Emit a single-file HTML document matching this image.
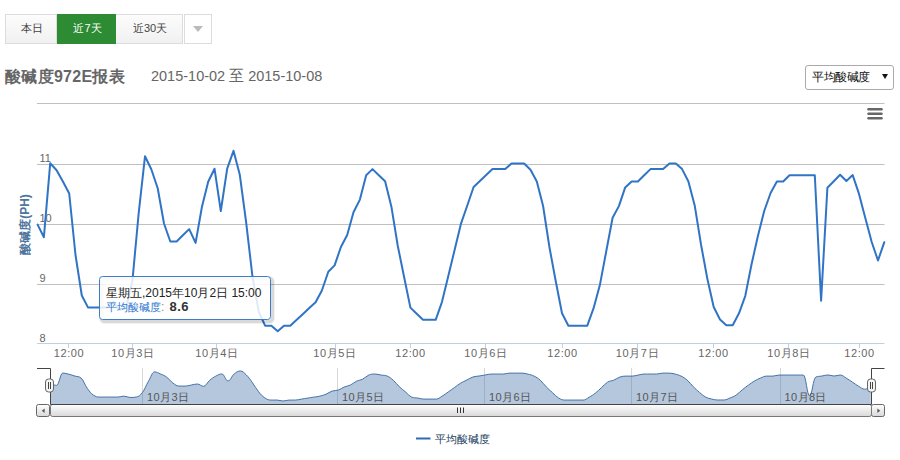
<!DOCTYPE html>
<html><head><meta charset="utf-8">
<style>
html,body{margin:0;padding:0;background:#fff;}
body{width:900px;height:460px;position:relative;overflow:hidden;font-family:"Liberation Sans",sans-serif;}
.btn{position:absolute;top:14px;height:28px;border:1px solid #dcdcdc;background:linear-gradient(#fcfcfc,#f1f1f1);color:#444;font-size:11px;line-height:26px;text-align:center;box-sizing:content-box;text-indent:2px;}
#b1{left:5px;width:50px;}
#b2{left:57px;width:59px;height:30px;border:none;background:#2d8b33;color:#fff;line-height:28px;}
#b3{left:116px;width:66px;border-left:none;}
#b4{left:184px;width:26px;background:#fff;}
#b4 i{position:absolute;left:8px;top:11px;width:0;height:0;border-left:5px solid transparent;border-right:5px solid transparent;border-top:6px solid #bbb;}
#title{position:absolute;left:5px;top:65px;font-size:16px;font-weight:bold;color:#666;letter-spacing:0.3px;white-space:nowrap;line-height:24px;}
#date{position:absolute;left:151px;top:64px;font-size:15.5px;color:#666;white-space:nowrap;line-height:24px;transform:scaleX(0.935);transform-origin:0 0;}
#sel{position:absolute;left:805px;top:65px;width:87px;height:23px;border:1px solid #aaa;border-radius:3px;background:#fff;}
#sel span{position:absolute;left:6px;top:0;font-size:12px;letter-spacing:-0.4px;line-height:23px;color:#111;}
#sel i{position:absolute;left:76px;top:8px;width:0;height:0;border-left:3px solid transparent;border-right:3px solid transparent;border-top:5.5px solid #111;}
svg{position:absolute;left:0;top:0;}
svg text{font-family:"Liberation Sans",sans-serif;}
</style></head><body>
<div class="btn" id="b1">本日</div>
<div class="btn" id="b2">近7天</div>
<div class="btn" id="b3">近30天</div>
<div class="btn" id="b4"><i></i></div>
<div id="title">酸碱度972E报表</div>
<div id="date">2015-10-02 至 2015-10-08</div>
<div id="sel"><span>平均酸碱度</span><i></i></div>
<svg width="900" height="460" viewBox="0 0 900 460">
 <g stroke="#c0c0c0" stroke-width="1" fill="none">
  <path d="M37 103.5 H884.5"/>
  <path d="M37 164.5 H884.5"/>
  <path d="M37 224.5 H884.5"/>
  <path d="M37 284.5 H884.5"/>
 </g>
 <path d="M37 343.5 H884.5" stroke="#c0d0e0" stroke-width="1"/>
 <g stroke="#c0d0e0" stroke-width="1">
  <path d="M68.5 343 v5"/><path d="M132.5 343 v5"/><path d="M216.5 343 v5"/><path d="M335.5 343 v5"/>
  <path d="M410.5 343 v5"/><path d="M485.5 343 v5"/><path d="M562.5 343 v5"/><path d="M637.5 343 v5"/>
  <path d="M713.5 343 v5"/><path d="M788.5 343 v5"/><path d="M859.5 343 v5"/>
 </g>
 <g font-size="11" fill="#666" text-anchor="start">
  <text x="39.5" y="162">11</text>
  <text x="39.5" y="222">10</text>
  <text x="39.5" y="282">9</text>
  <text x="39.5" y="341.5">8</text>
 </g>
 <g font-size="11" fill="#666" text-anchor="middle" letter-spacing="0.6">
  <text x="69" y="357">12:00</text>
  <text x="133" y="357">10月3日</text>
  <text x="217" y="357">10月4日</text>
  <text x="335" y="357">10月5日</text>
  <text x="410.5" y="357">12:00</text>
  <text x="486" y="357">10月6日</text>
  <text x="562.5" y="357">12:00</text>
  <text x="637.5" y="357">10月7日</text>
  <text x="713.5" y="357">12:00</text>
  <text x="789" y="357">10月8日</text>
  <text x="859.5" y="357">12:00</text>
 </g>
 <text transform="translate(29 224.5) rotate(-90)" text-anchor="middle" font-size="12" fill="#4d759e"><tspan font-size="11.5" font-weight="bold">酸碱度</tspan><tspan font-weight="bold">(PH)</tspan></text>
 <!-- export menu -->
 <g stroke="#666" stroke-width="2.5" stroke-linecap="round">
  <path d="M868.5 109.2 H881.5"/><path d="M868.5 113.7 H881.5"/><path d="M868.5 118.2 H881.5"/>
 </g>
 <!-- series -->
 <path d="M37.6 224.6 L43.9 237.2 L50.2 163.3 L56.6 170.2 L62.9 181.5 L69.2 193.5 L75.5 255.0 L81.8 295.5 L88.1 307.6 L94.5 307.6 L100.8 307.6 L107.1 307.6 L113.4 302.0 L119.7 310.0 L126.1 307.6 L132.4 281.0 L138.7 213.0 L145.0 156.3 L151.3 169.3 L157.7 188.3 L164.0 223.5 L170.3 241.5 L176.6 241.5 L182.9 235.3 L189.2 229.1 L195.6 242.9 L201.9 207.0 L208.2 181.7 L214.5 168.7 L220.8 211.0 L227.2 168.7 L233.5 150.8 L239.8 174.8 L246.1 222.0 L252.4 276.0 L258.8 312.0 L265.1 325.7 L271.4 325.7 L277.7 331.3 L284.0 325.7 L290.3 325.7 L296.7 319.8 L303.0 313.9 L309.3 308.0 L315.6 302.2 L321.9 290.5 L328.3 271.7 L334.6 265.4 L340.9 247.0 L347.2 235.0 L353.5 212.2 L359.9 199.6 L366.2 175.2 L372.5 169.1 L378.8 175.2 L385.1 181.3 L391.4 206.7 L397.8 246.0 L404.1 277.0 L410.4 307.6 L416.7 313.8 L423.0 319.8 L429.4 319.8 L435.7 319.8 L442.0 301.8 L448.3 276.0 L454.6 250.0 L460.9 223.9 L467.3 205.5 L473.6 187.0 L479.9 181.0 L486.2 175.0 L492.5 169.1 L498.9 169.1 L505.2 169.1 L511.5 163.5 L517.8 163.5 L524.1 163.5 L530.5 169.8 L536.8 181.5 L543.1 206.0 L549.4 247.0 L555.7 281.0 L562.0 313.3 L568.4 325.7 L574.7 325.7 L581.0 325.7 L587.3 325.7 L593.6 308.2 L600.0 284.4 L606.3 251.0 L612.6 217.8 L618.9 206.1 L625.2 187.4 L631.6 181.5 L637.9 181.5 L644.2 175.3 L650.5 169.1 L656.8 169.1 L663.1 169.1 L669.5 163.5 L675.8 163.5 L682.1 169.1 L688.4 181.5 L694.7 205.4 L701.1 245.0 L707.4 279.0 L713.7 307.0 L720.0 319.5 L726.3 325.3 L732.7 325.3 L739.0 313.3 L745.3 295.8 L751.6 264.0 L757.9 236.0 L764.2 211.0 L770.6 193.0 L776.9 181.5 L783.2 181.5 L789.5 175.2 L795.8 175.2 L802.2 175.2 L808.5 175.2 L814.8 175.2 L821.1 300.7 L827.4 187.7 L833.8 181.2 L840.1 174.7 L846.4 181.0 L852.7 175.1 L859.0 193.9 L865.3 218.0 L871.7 242.0 L878.0 260.5 L884.3 242.2" fill="none" stroke="#3074c6" stroke-width="2" stroke-linejoin="round" stroke-linecap="round"/>
 <!-- navigator -->
 <g stroke="#d8d8d8" stroke-width="1">
  <path d="M142.5 368 V404"/><path d="M337.5 368 V404"/><path d="M484.5 368 V404"/><path d="M631.5 368 V404"/><path d="M780.5 368 V404"/>
 </g>
 <path d="M50.50 383.27 C50.50 383.27 54.17 385.36 56.62 385.36 C59.07 385.36 60.29 373.08 62.74 373.08 C65.19 373.08 66.42 373.62 68.86 374.22 C71.31 374.83 72.54 375.33 74.99 376.10 C77.44 376.88 78.66 376.10 81.11 378.10 C83.56 380.09 84.78 384.93 87.23 388.32 C89.68 391.71 90.90 393.30 93.35 395.05 C95.80 396.80 97.02 397.06 99.47 397.06 C101.92 397.06 103.15 397.06 105.59 397.06 C108.04 397.06 109.27 397.06 111.72 397.06 C114.17 397.06 115.39 397.06 117.84 397.06 C120.29 397.06 121.51 396.13 123.96 396.13 C126.41 396.13 127.63 397.46 130.08 397.46 C132.53 397.46 133.75 397.46 136.20 397.06 C138.65 396.66 139.88 395.78 142.32 392.64 C144.77 389.50 146.00 385.48 148.45 381.34 C150.89 377.19 152.12 371.91 154.57 371.91 C157.02 371.91 158.24 373.01 160.69 374.07 C163.14 375.14 164.36 375.43 166.81 377.23 C169.26 379.03 170.48 381.31 172.93 383.08 C175.38 384.85 176.61 386.07 179.05 386.07 C181.50 386.07 182.73 386.07 185.18 386.07 C187.62 386.07 188.85 385.46 191.30 385.04 C193.75 384.63 194.97 384.01 197.42 384.01 C199.87 384.01 201.09 386.31 203.54 386.31 C205.99 386.31 207.21 382.38 209.66 380.34 C212.11 378.31 213.34 377.41 215.78 376.14 C218.23 374.86 219.46 373.98 221.91 373.98 C224.35 373.98 225.58 381.01 228.03 381.01 C230.48 381.01 231.70 375.98 234.15 373.98 C236.60 371.97 237.82 371.00 240.27 371.00 C242.72 371.00 243.94 372.62 246.39 374.99 C248.84 377.36 250.07 379.47 252.51 382.83 C254.96 386.20 256.19 388.82 258.64 391.81 C261.08 394.80 262.31 396.14 264.76 397.79 C267.21 399.44 268.43 400.07 270.88 400.07 C273.33 400.07 274.55 400.07 277.00 400.07 C279.45 400.07 280.67 401.00 283.12 401.00 C285.57 401.00 286.80 400.07 289.24 400.07 C291.69 400.07 292.92 400.07 295.37 400.07 C297.81 400.07 299.04 399.48 301.49 399.09 C303.94 398.70 305.16 398.50 307.61 398.11 C310.06 397.72 311.28 397.52 313.73 397.13 C316.18 396.74 317.40 396.75 319.85 396.16 C322.30 395.58 323.53 395.23 325.97 394.22 C328.42 393.20 329.65 391.93 332.10 391.09 C334.54 390.26 335.77 390.87 338.22 390.05 C340.67 389.23 341.89 388.00 344.34 386.99 C346.79 385.98 348.01 386.15 350.46 384.99 C352.91 383.84 354.13 382.38 356.58 381.20 C359.03 380.03 360.26 380.34 362.70 379.11 C365.15 377.88 366.38 376.07 368.83 375.06 C371.27 374.04 372.50 374.04 374.95 374.04 C377.40 374.04 378.62 374.65 381.07 375.06 C383.52 375.46 384.74 375.06 387.19 376.07 C389.64 377.08 390.86 378.14 393.31 380.29 C395.76 382.44 396.98 384.49 399.43 386.82 C401.88 389.16 403.11 389.93 405.56 391.98 C408.00 394.02 409.23 396.03 411.68 397.06 C414.13 398.09 415.35 397.69 417.80 398.09 C420.25 398.50 421.47 399.09 423.92 399.09 C426.37 399.09 427.59 399.09 430.04 399.09 C432.49 399.09 433.71 399.09 436.16 399.09 C438.61 399.09 439.84 397.55 442.29 396.10 C444.73 394.64 445.96 393.53 448.41 391.81 C450.86 390.09 452.08 389.22 454.53 387.49 C456.98 385.76 458.20 384.63 460.65 383.15 C463.10 381.67 464.32 381.32 466.77 380.09 C469.22 378.86 470.44 377.83 472.89 377.02 C475.34 376.20 476.57 376.42 479.01 376.02 C481.46 375.62 482.69 375.42 485.14 375.02 C487.59 374.63 488.81 374.04 491.26 374.04 C493.71 374.04 494.93 374.04 497.38 374.04 C499.83 374.04 501.05 374.04 503.50 374.04 C505.95 374.04 507.17 373.11 509.62 373.11 C512.07 373.11 513.30 373.11 515.74 373.11 C518.19 373.11 519.42 373.11 521.87 373.11 C524.32 373.11 525.54 373.56 527.99 374.16 C530.44 374.76 531.66 374.90 534.11 376.10 C536.56 377.31 537.78 378.00 540.23 380.17 C542.68 382.35 543.90 384.50 546.35 386.99 C548.80 389.48 550.03 390.44 552.47 392.64 C554.92 394.84 556.15 396.52 558.60 398.01 C561.04 399.49 562.27 400.07 564.72 400.07 C567.17 400.07 568.39 400.07 570.84 400.07 C573.29 400.07 574.51 400.07 576.96 400.07 C579.41 400.07 580.63 400.07 583.08 400.07 C585.53 400.07 586.76 398.53 589.20 397.16 C591.65 395.79 592.88 395.11 595.33 393.20 C597.77 391.30 599.00 389.87 601.45 387.65 C603.90 385.44 605.12 383.63 607.57 382.14 C610.02 380.64 611.24 381.20 613.69 380.19 C616.14 379.18 617.36 377.90 619.81 377.08 C622.26 376.27 623.49 376.10 625.93 376.10 C628.38 376.10 629.61 376.10 632.06 376.10 C634.50 376.10 635.73 375.48 638.18 375.07 C640.63 374.66 641.85 374.04 644.30 374.04 C646.75 374.04 647.97 374.04 650.42 374.04 C652.87 374.04 654.09 374.04 656.54 374.04 C658.99 374.04 660.22 373.11 662.66 373.11 C665.11 373.11 666.34 373.11 668.79 373.11 C671.23 373.11 672.46 373.44 674.91 374.04 C677.36 374.64 678.58 374.90 681.03 376.10 C683.48 377.31 684.70 377.96 687.15 380.07 C689.60 382.19 690.82 384.21 693.27 386.66 C695.72 389.10 696.95 390.25 699.39 392.31 C701.84 394.37 703.07 395.61 705.52 396.96 C707.96 398.31 709.19 398.43 711.64 399.04 C714.09 399.65 715.31 400.00 717.76 400.00 C720.21 400.00 721.43 400.00 723.88 400.00 C726.33 400.00 727.55 398.99 730.00 398.01 C732.45 397.03 733.68 396.74 736.12 395.10 C738.57 393.46 739.80 391.80 742.25 389.81 C744.69 387.83 745.92 386.92 748.37 385.16 C750.82 383.40 752.04 382.43 754.49 381.01 C756.94 379.58 758.16 378.99 760.61 378.01 C763.06 377.03 764.28 376.10 766.73 376.10 C769.18 376.10 770.41 376.10 772.85 376.10 C775.30 376.10 776.53 375.06 778.98 375.06 C781.42 375.06 782.65 375.06 785.10 375.06 C787.55 375.06 788.77 375.06 791.22 375.06 C793.67 375.06 794.89 375.06 797.34 375.06 C799.79 375.06 801.01 375.06 803.46 375.06 C805.91 375.06 807.13 395.91 809.58 395.91 C812.03 395.91 813.26 378.21 815.71 377.13 C818.15 376.05 819.38 376.48 821.83 376.05 C824.28 375.62 825.50 374.97 827.95 374.97 C830.40 374.97 831.62 376.02 834.07 376.02 C836.52 376.02 837.74 375.04 840.19 375.04 C842.64 375.04 843.86 376.74 846.31 378.16 C848.76 379.59 849.99 380.57 852.44 382.17 C854.88 383.77 856.11 384.75 858.56 386.16 C861.01 387.57 862.23 389.23 864.68 389.23 C867.13 389.23 870.80 386.19 870.80 386.19 L870.80 404 L50.50 404 Z" fill="#4572a7" fill-opacity="0.4" stroke="none"/>
 <path d="M50.50 383.27 C50.50 383.27 54.17 385.36 56.62 385.36 C59.07 385.36 60.29 373.08 62.74 373.08 C65.19 373.08 66.42 373.62 68.86 374.22 C71.31 374.83 72.54 375.33 74.99 376.10 C77.44 376.88 78.66 376.10 81.11 378.10 C83.56 380.09 84.78 384.93 87.23 388.32 C89.68 391.71 90.90 393.30 93.35 395.05 C95.80 396.80 97.02 397.06 99.47 397.06 C101.92 397.06 103.15 397.06 105.59 397.06 C108.04 397.06 109.27 397.06 111.72 397.06 C114.17 397.06 115.39 397.06 117.84 397.06 C120.29 397.06 121.51 396.13 123.96 396.13 C126.41 396.13 127.63 397.46 130.08 397.46 C132.53 397.46 133.75 397.46 136.20 397.06 C138.65 396.66 139.88 395.78 142.32 392.64 C144.77 389.50 146.00 385.48 148.45 381.34 C150.89 377.19 152.12 371.91 154.57 371.91 C157.02 371.91 158.24 373.01 160.69 374.07 C163.14 375.14 164.36 375.43 166.81 377.23 C169.26 379.03 170.48 381.31 172.93 383.08 C175.38 384.85 176.61 386.07 179.05 386.07 C181.50 386.07 182.73 386.07 185.18 386.07 C187.62 386.07 188.85 385.46 191.30 385.04 C193.75 384.63 194.97 384.01 197.42 384.01 C199.87 384.01 201.09 386.31 203.54 386.31 C205.99 386.31 207.21 382.38 209.66 380.34 C212.11 378.31 213.34 377.41 215.78 376.14 C218.23 374.86 219.46 373.98 221.91 373.98 C224.35 373.98 225.58 381.01 228.03 381.01 C230.48 381.01 231.70 375.98 234.15 373.98 C236.60 371.97 237.82 371.00 240.27 371.00 C242.72 371.00 243.94 372.62 246.39 374.99 C248.84 377.36 250.07 379.47 252.51 382.83 C254.96 386.20 256.19 388.82 258.64 391.81 C261.08 394.80 262.31 396.14 264.76 397.79 C267.21 399.44 268.43 400.07 270.88 400.07 C273.33 400.07 274.55 400.07 277.00 400.07 C279.45 400.07 280.67 401.00 283.12 401.00 C285.57 401.00 286.80 400.07 289.24 400.07 C291.69 400.07 292.92 400.07 295.37 400.07 C297.81 400.07 299.04 399.48 301.49 399.09 C303.94 398.70 305.16 398.50 307.61 398.11 C310.06 397.72 311.28 397.52 313.73 397.13 C316.18 396.74 317.40 396.75 319.85 396.16 C322.30 395.58 323.53 395.23 325.97 394.22 C328.42 393.20 329.65 391.93 332.10 391.09 C334.54 390.26 335.77 390.87 338.22 390.05 C340.67 389.23 341.89 388.00 344.34 386.99 C346.79 385.98 348.01 386.15 350.46 384.99 C352.91 383.84 354.13 382.38 356.58 381.20 C359.03 380.03 360.26 380.34 362.70 379.11 C365.15 377.88 366.38 376.07 368.83 375.06 C371.27 374.04 372.50 374.04 374.95 374.04 C377.40 374.04 378.62 374.65 381.07 375.06 C383.52 375.46 384.74 375.06 387.19 376.07 C389.64 377.08 390.86 378.14 393.31 380.29 C395.76 382.44 396.98 384.49 399.43 386.82 C401.88 389.16 403.11 389.93 405.56 391.98 C408.00 394.02 409.23 396.03 411.68 397.06 C414.13 398.09 415.35 397.69 417.80 398.09 C420.25 398.50 421.47 399.09 423.92 399.09 C426.37 399.09 427.59 399.09 430.04 399.09 C432.49 399.09 433.71 399.09 436.16 399.09 C438.61 399.09 439.84 397.55 442.29 396.10 C444.73 394.64 445.96 393.53 448.41 391.81 C450.86 390.09 452.08 389.22 454.53 387.49 C456.98 385.76 458.20 384.63 460.65 383.15 C463.10 381.67 464.32 381.32 466.77 380.09 C469.22 378.86 470.44 377.83 472.89 377.02 C475.34 376.20 476.57 376.42 479.01 376.02 C481.46 375.62 482.69 375.42 485.14 375.02 C487.59 374.63 488.81 374.04 491.26 374.04 C493.71 374.04 494.93 374.04 497.38 374.04 C499.83 374.04 501.05 374.04 503.50 374.04 C505.95 374.04 507.17 373.11 509.62 373.11 C512.07 373.11 513.30 373.11 515.74 373.11 C518.19 373.11 519.42 373.11 521.87 373.11 C524.32 373.11 525.54 373.56 527.99 374.16 C530.44 374.76 531.66 374.90 534.11 376.10 C536.56 377.31 537.78 378.00 540.23 380.17 C542.68 382.35 543.90 384.50 546.35 386.99 C548.80 389.48 550.03 390.44 552.47 392.64 C554.92 394.84 556.15 396.52 558.60 398.01 C561.04 399.49 562.27 400.07 564.72 400.07 C567.17 400.07 568.39 400.07 570.84 400.07 C573.29 400.07 574.51 400.07 576.96 400.07 C579.41 400.07 580.63 400.07 583.08 400.07 C585.53 400.07 586.76 398.53 589.20 397.16 C591.65 395.79 592.88 395.11 595.33 393.20 C597.77 391.30 599.00 389.87 601.45 387.65 C603.90 385.44 605.12 383.63 607.57 382.14 C610.02 380.64 611.24 381.20 613.69 380.19 C616.14 379.18 617.36 377.90 619.81 377.08 C622.26 376.27 623.49 376.10 625.93 376.10 C628.38 376.10 629.61 376.10 632.06 376.10 C634.50 376.10 635.73 375.48 638.18 375.07 C640.63 374.66 641.85 374.04 644.30 374.04 C646.75 374.04 647.97 374.04 650.42 374.04 C652.87 374.04 654.09 374.04 656.54 374.04 C658.99 374.04 660.22 373.11 662.66 373.11 C665.11 373.11 666.34 373.11 668.79 373.11 C671.23 373.11 672.46 373.44 674.91 374.04 C677.36 374.64 678.58 374.90 681.03 376.10 C683.48 377.31 684.70 377.96 687.15 380.07 C689.60 382.19 690.82 384.21 693.27 386.66 C695.72 389.10 696.95 390.25 699.39 392.31 C701.84 394.37 703.07 395.61 705.52 396.96 C707.96 398.31 709.19 398.43 711.64 399.04 C714.09 399.65 715.31 400.00 717.76 400.00 C720.21 400.00 721.43 400.00 723.88 400.00 C726.33 400.00 727.55 398.99 730.00 398.01 C732.45 397.03 733.68 396.74 736.12 395.10 C738.57 393.46 739.80 391.80 742.25 389.81 C744.69 387.83 745.92 386.92 748.37 385.16 C750.82 383.40 752.04 382.43 754.49 381.01 C756.94 379.58 758.16 378.99 760.61 378.01 C763.06 377.03 764.28 376.10 766.73 376.10 C769.18 376.10 770.41 376.10 772.85 376.10 C775.30 376.10 776.53 375.06 778.98 375.06 C781.42 375.06 782.65 375.06 785.10 375.06 C787.55 375.06 788.77 375.06 791.22 375.06 C793.67 375.06 794.89 375.06 797.34 375.06 C799.79 375.06 801.01 375.06 803.46 375.06 C805.91 375.06 807.13 395.91 809.58 395.91 C812.03 395.91 813.26 378.21 815.71 377.13 C818.15 376.05 819.38 376.48 821.83 376.05 C824.28 375.62 825.50 374.97 827.95 374.97 C830.40 374.97 831.62 376.02 834.07 376.02 C836.52 376.02 837.74 375.04 840.19 375.04 C842.64 375.04 843.86 376.74 846.31 378.16 C848.76 379.59 849.99 380.57 852.44 382.17 C854.88 383.77 856.11 384.75 858.56 386.16 C861.01 387.57 862.23 389.23 864.68 389.23 C867.13 389.23 870.80 386.19 870.80 386.19" fill="none" stroke="#4572a7" stroke-width="1"/>
 <g font-size="11" fill="#555" letter-spacing="0.4">
  <text x="147" y="400.8">10月3日</text>
  <text x="342" y="400.8">10月5日</text>
  <text x="489" y="400.8">10月6日</text>
  <text x="636" y="400.8">10月7日</text>
  <text x="784.5" y="400.8">10月8日</text>
 </g>
 <!-- scrollbar -->
 <defs>
  <linearGradient id="sg" x1="0" y1="0" x2="0" y2="1"><stop offset="0" stop-color="#ffffff"/><stop offset="1" stop-color="#d8d8d8"/></linearGradient>
 </defs>
 <rect x="36.5" y="404.5" width="13" height="12" rx="2" fill="url(#sg)" stroke="#666"/>
 <path d="M41.8 410.8 L44.6 408.5 V413.1 Z" fill="#555"/>
 <rect x="871.5" y="404.5" width="13" height="12" rx="2" fill="url(#sg)" stroke="#666"/>
 <path d="M880.2 410.8 L877.4 408.5 V413.1 Z" fill="#555"/>
 <rect x="50.5" y="404.5" width="821" height="12" rx="2" fill="url(#sg)" stroke="#777"/>
 <g stroke="#333" stroke-width="1">
  <path d="M457.5 407.5 V413"/><path d="M460.5 407.5 V413"/><path d="M463.5 407.5 V413"/>
 </g>
 <!-- outline -->
 <path d="M37 368.5 H50.5 V404.5 H871.5 V368.5 H884.5" fill="none" stroke="#444" stroke-width="1"/>
 <!-- handles -->
 <g>
  <rect x="45.5" y="379" width="8" height="13" rx="3" fill="#f4f4f4" stroke="#666"/>
  <path d="M48.5 382 V389 M50.5 382 V389" stroke="#444" stroke-width="1"/>
  <rect x="867.5" y="379" width="8" height="13" rx="3" fill="#f4f4f4" stroke="#666"/>
  <path d="M870.5 382 V389 M872.5 382 V389" stroke="#444" stroke-width="1"/>
 </g>
 <!-- tooltip -->
 <rect x="101.5" y="278.5" width="171" height="43" rx="3" fill="none" stroke="#000" stroke-opacity="0.05" stroke-width="5"/>
 <rect x="101.5" y="278.5" width="171" height="43" rx="3" fill="none" stroke="#000" stroke-opacity="0.1" stroke-width="3"/>
 <rect x="99.5" y="276.5" width="171" height="43" rx="3" fill="#fff" fill-opacity="0.85" stroke="#3f7cc8" stroke-width="1"/>
 <text x="106" y="296.5" font-size="12" fill="#222">星期五,2015年10月2日 15:00</text>
 <text x="106" y="310.5" font-size="12"><tspan fill="#2f78d0" font-size="11">平均酸碱度</tspan><tspan fill="#888">: </tspan><tspan x="169.5" fill="#333" font-weight="bold" font-size="13" letter-spacing="0.4">8.6</tspan></text>
 <!-- legend -->
 <path d="M416 438.5 H430.5" stroke="#2d6ab8" stroke-width="2"/>
 <text x="435" y="443" font-size="11" fill="#22405e">平均酸碱度</text>
</svg>
</body></html>
